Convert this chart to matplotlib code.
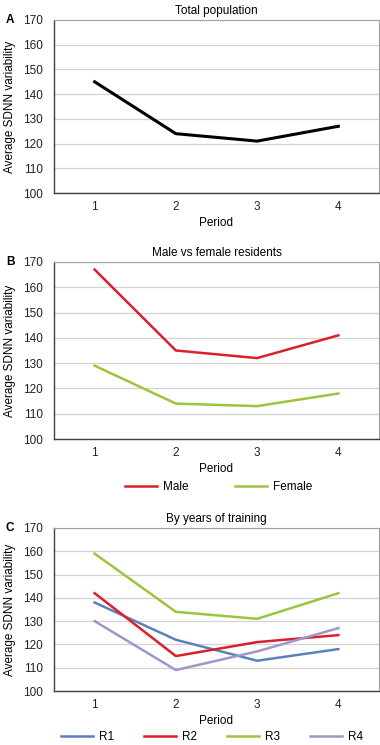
import matplotlib
matplotlib.use("Agg")
import matplotlib.pyplot as plt
from matplotlib import font_manager

names = {f.name for f in font_manager.fontManager.ttflist}
fam = ['Liberation Sans Narrow'] if 'Liberation Sans Narrow' in names else ['Liberation Sans', 'DejaVu Sans']
plt.rcParams['font.family'] = fam

periods = [1, 2, 3, 4]
yticks = [100, 110, 120, 130, 140, 150, 160, 170]

total = [145, 124, 121, 127]

male = [167, 135, 132, 141]
female = [129, 114, 113, 118]

r1 = [138, 122, 113, 118]
r2 = [142, 115, 121, 124]
r3 = [159, 134, 131, 142]
r4 = [130, 109, 117, 127]

W, H = 380, 745
fig = plt.figure(figsize=(W / 100, H / 100), dpi=100)

RED = '#d9202b'
GREEN = '#9cc43e'
BLUE = '#5b80bf'
LAV = '#9f97c9'
FS = 8.5


def make_ax(top, bottom, title, letter):
    ax = fig.add_axes([54 / W, (H - bottom) / H, 325 / W, (bottom - top) / H])
    ax.set_xlim(0.5, 4.5)
    ax.set_ylim(100, 170)
    ax.set_yticks(yticks)
    ax.set_xticks(periods)
    ax.grid(axis='y', color='#d4d4d4', linewidth=0.9)
    ax.set_axisbelow(True)
    for s in ['top', 'right']:
        ax.spines[s].set_color('#a0a0a0')
        ax.spines[s].set_linewidth(0.8)
    for s in ['left', 'bottom']:
        ax.spines[s].set_color('#404040')
        ax.spines[s].set_linewidth(1.0)
    ax.tick_params(length=0, labelsize=FS, colors='#222222')
    ax.tick_params(axis='y', pad=8)
    ax.tick_params(axis='x', pad=6)
    ax.set_ylabel('Average SDNN variability', fontsize=FS, labelpad=5)
    ax.set_xlabel('Period', fontsize=FS, labelpad=3)
    ax.set_title(title, fontsize=FS, pad=4)
    fig.text(6 / W, (H - top) / H, letter, fontsize=FS, fontweight='bold', va='center', ha='left')
    return ax


def px_legend(ax, top, bottom, x_px, y_px, ncol, spacing):
    h = bottom - top
    ax.legend(loc='center left', bbox_to_anchor=((x_px - 54) / 325, (bottom - y_px) / h),
              ncol=ncol, frameon=False, fontsize=FS, handlelength=2.7,
              handletextpad=0.5, columnspacing=spacing, borderpad=0, borderaxespad=0)


axA = make_ax(20, 193, 'Total population', 'A')
axA.plot(periods, total, color='black', linewidth=2.2)

axB = make_ax(262, 439, 'Male vs female residents', 'B')
axB.plot(periods, male, color=RED, linewidth=1.8, label='Male')
axB.plot(periods, female, color=GREEN, linewidth=1.8, label='Female')
px_legend(axB, 262, 439, 125, 487, 2, 3.95)

axC = make_ax(528, 691, 'By years of training', 'C')
axC.plot(periods, r1, color=BLUE, linewidth=1.8, label='R1')
axC.plot(periods, r2, color=RED, linewidth=1.8, label='R2')
axC.plot(periods, r3, color=GREEN, linewidth=1.8, label='R3')
axC.plot(periods, r4, color=LAV, linewidth=1.8, label='R4')
px_legend(axC, 528, 691, 61, 737, 4, 2.55)

fig.savefig('out.png', dpi=100)
